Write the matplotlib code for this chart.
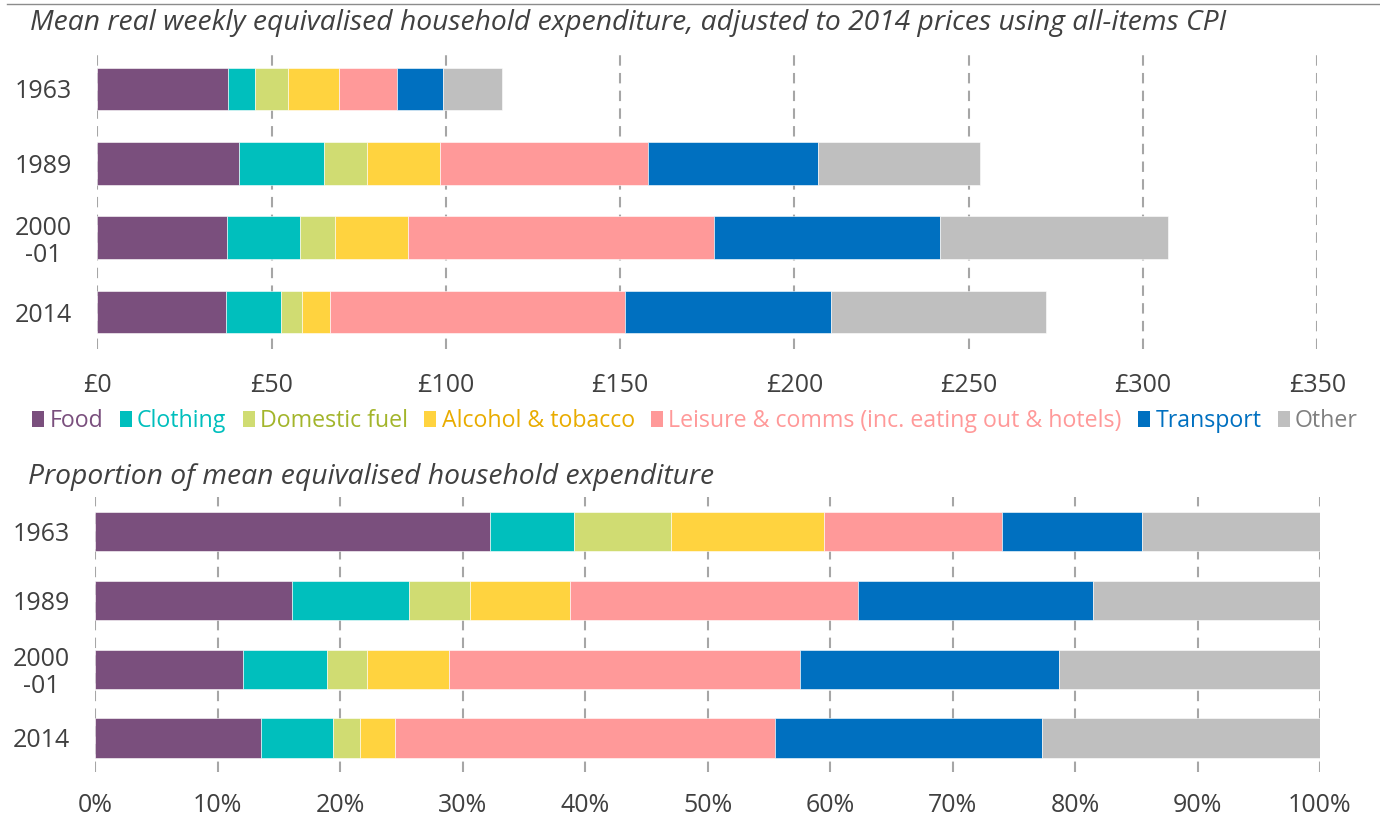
import matplotlib
matplotlib.use("Agg")
import matplotlib.pyplot as plt
from matplotlib.patches import Patch
from matplotlib.lines import Line2D
import numpy as np

plt.rcParams['font.family'] = ['Open Sans', 'DejaVu Sans']

years = ["1963", "1989", "2000\n-01", "2014"]
categories = ["Food", "Clothing", "Domestic fuel", "Alcohol & tobacco",
              "Leisure & comms (inc. eating out & hotels)", "Transport", "Other"]
bar_colors = ["#7a4f7d", "#00bfbd", "#d0dc72", "#ffd33f", "#ff9999", "#0070c0", "#bfbfbf"]
text_colors = ["#7a4f7d", "#00bfbd", "#a3b52b", "#e9ac00", "#ff9999", "#0070c0", "#808080"]

# Top panel: £ per week, per category
food_gbp      = [37.4, 40.7, 37.3, 37.0]
clothing_gbp  = [7.8, 24.3, 20.8, 15.8]
fuel_gbp      = [9.4, 12.4, 10.2, 6.0]
alcohol_gbp   = [14.6, 21.0, 20.7, 8.1]
leisure_gbp   = [16.7, 59.6, 87.8, 84.4]
transport_gbp = [13.2, 48.7, 64.9, 59.2]
other_gbp     = [17.0, 46.5, 65.5, 61.8]

# Bottom panel: share of spending (%)
food_pct      = [32.2, 16.1, 12.1, 13.5]
clothing_pct  = [6.9, 9.5, 6.8, 5.9]
fuel_pct      = [7.9, 5.0, 3.3, 2.2]
alcohol_pct   = [12.5, 8.2, 6.7, 2.9]
leisure_pct   = [14.5, 23.5, 28.6, 31.0]
transport_pct = [11.5, 19.2, 21.2, 21.8]
other_pct     = [14.5, 18.5, 21.3, 22.7]

gbp_series = [food_gbp, clothing_gbp, fuel_gbp, alcohol_gbp, leisure_gbp, transport_gbp, other_gbp]
pct_series = [food_pct, clothing_pct, fuel_pct, alcohol_pct, leisure_pct, transport_pct, other_pct]

gbp_ticks = [0, 50, 100, 150, 200, 250, 300, 350]
gbp_labels = ["£0", "£50", "£100", "£150", "£200", "£250", "£300", "£350"]
pct_ticks = list(range(0, 101, 10))
pct_labels = [f"{t}%" for t in pct_ticks]

W, H = 1380, 819
fig = plt.figure(figsize=(W / 100, H / 100), dpi=100)

def fx(px):
    return px / W

def fy(py):
    return 1 - py / H

tick_color = "#404040"
grid_color = "#a6a6a6"

def draw_panel(ax, series, xmax, ticks, labels, xpad):
    y = np.arange(len(years))
    left = np.zeros(len(years))
    for vals, col in zip(series, bar_colors):
        vals = np.array(vals)
        ax.barh(y, vals, left=left, height=0.57, color=col, edgecolor="white",
                linewidth=0.4, zorder=3)
        left += vals
    ax.set_xlim(0, xmax)
    ax.set_ylim(3.5, -0.5)
    ax.set_yticks(y)
    ax.set_yticklabels(years, multialignment="center", linespacing=1.1)
    ax.set_xticks(ticks)
    ax.set_xticklabels(labels)
    for s in ax.spines.values():
        s.set_visible(False)
    ax.tick_params(axis="both", length=0, labelsize=18, colors=tick_color)
    ax.tick_params(axis="x", pad=xpad)
    ax.tick_params(axis="y", pad=18.5)
    ax.grid(axis="x", color=grid_color, linestyle=(0, (5, 3.5)), linewidth=1.5, zorder=0)
    ax.set_axisbelow(True)

# Top panel
ax1 = fig.add_axes([fx(97.3), fy(349.2), fx(1317.3) - fx(97.3), fy(51.8) - fy(349.2)])
draw_panel(ax1, gbp_series, 350, gbp_ticks, gbp_labels, 17)

# Bottom panel
ax2 = fig.add_axes([fx(95.3), fy(772.4), fx(1320.0) - fx(95.3), fy(497) - fy(772.4)])
draw_panel(ax2, pct_series, 100, pct_ticks, pct_labels, 15)

# Titles
fig.text(fx(30), fy(23), "Mean real weekly equivalised household expenditure, adjusted to 2014 prices using all-items CPI",
         fontsize=20.3, style="italic", color="#404040", va="center", ha="left")
fig.text(fx(28), fy(477), "Proportion of mean equivalised household expenditure",
         fontsize=20.3, style="italic", color="#404040", va="center", ha="left")

# Top rule
fig.add_artist(Line2D([fx(7), 1.0], [fy(4), fy(4)], color="#8c8c8c", linewidth=1.0))

# Legend
handles = [Patch(facecolor=c, edgecolor="none") for c in bar_colors]
leg = fig.legend(handles, categories, loc="center", bbox_to_anchor=(fx(695), fy(421)),
                 ncol=7, frameon=False, fontsize=16.7, handlelength=0.53, handleheight=0.7,
                 handletextpad=0.22, columnspacing=0.7, borderaxespad=0, borderpad=0)
for t, c in zip(leg.get_texts(), text_colors):
    t.set_color(c)

fig.savefig("out.png", dpi=100)
